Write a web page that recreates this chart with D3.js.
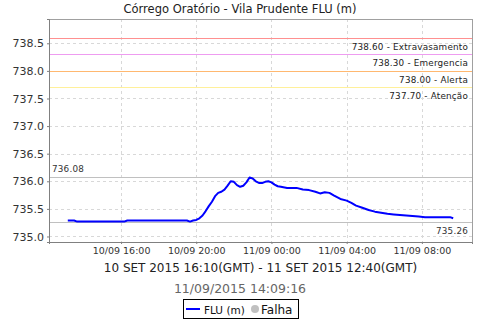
<!DOCTYPE html>
<html>
<head>
<meta charset="utf-8">
<script src="https://cdn.jsdelivr.net/npm/d3@7"></script>
<style>
  body { margin: 0; background: #fff; }
  text { font-family: "DejaVu Sans", sans-serif; }
</style>
</head>
<body>
<div id="chart"></div>
<script>
// series: local time (10/09 -> 11/09/2015) and level in m
const times = [
  "10/09 13:10","10/09 13:30","10/09 13:40","10/09 14:00","10/09 15:00","10/09 16:10",
  "10/09 16:20","10/09 17:00","10/09 18:00","10/09 19:00","10/09 19:30","10/09 19:40",
  "10/09 19:50","10/09 20:00","10/09 20:10","10/09 20:20","10/09 20:30","10/09 20:40",
  "10/09 20:50","10/09 21:00","10/09 21:10","10/09 21:20","10/09 21:30","10/09 21:40",
  "10/09 21:50","10/09 22:00","10/09 22:10","10/09 22:20","10/09 22:30","10/09 22:40",
  "10/09 22:50","10/09 23:00","10/09 23:10","10/09 23:20","10/09 23:30","10/09 23:40",
  "10/09 23:50","11/09 00:00","11/09 00:10","11/09 00:20","11/09 00:30","11/09 00:50",
  "11/09 01:20","11/09 01:40","11/09 02:00","11/09 02:20","11/09 02:35","11/09 02:50",
  "11/09 03:05","11/09 03:20","11/09 03:40","11/09 04:00","11/09 04:15","11/09 04:30",
  "11/09 04:50","11/09 05:10","11/09 05:30","11/09 05:50","11/09 06:10","11/09 06:30",
  "11/09 06:50","11/09 07:10","11/09 07:30","11/09 07:50","11/09 08:10","11/09 09:30",
  "11/09 09:40"
];
const levels = [
  735.29,735.29,735.27,735.27,735.27,735.27,
  735.29,735.29,735.29,735.29,735.29,735.27,
  735.29,735.30,735.33,735.38,735.46,735.55,
  735.63,735.73,735.79,735.81,735.85,735.92,
  736.00,735.99,735.93,735.90,735.92,735.98,
  736.07,736.05,736.00,735.97,735.97,735.99,
  736.00,735.98,735.94,735.91,735.90,735.88,
  735.88,735.85,735.84,735.81,735.78,735.80,
  735.79,735.74,735.68,735.65,735.61,735.56,
  735.52,735.48,735.45,735.43,735.41,735.40,
  735.39,735.38,735.37,735.36,735.35,735.35,
  735.33
];

// alert thresholds
const limitValues = [738.60, 738.30, 738.00, 737.70];
const limitNames = ["Extravasamento", "Emergencia", "Alerta", "Atenção"];
const limitColors = ["#ff9090", "#ee9cf0", "#ffb870", "#fff09a"];

const maxValue = 736.08;
const minValue = 735.26;

const yTicks = [735.0, 735.5, 736.0, 736.5, 737.0, 737.5, 738.0, 738.5];
const xTicks = ["10/09 16:00", "10/09 20:00", "11/09 00:00", "11/09 04:00", "11/09 08:00"];
const xDomain = ["10/09 12:10", "11/09 10:40"];

const title = "Córrego Oratório - Vila Prudente FLU (m)";
const xLabel = "10 SET 2015 16:10(GMT) - 11 SET 2015 12:40(GMT)";
const stamp = "11/09/2015 14:09:16";

const parse = d3.timeParse("%d/%m/%Y %H:%M");
const toDate = s => parse(s.slice(0, 5) + "/2015" + s.slice(5));

const width = 480, height = 320;
const margin = { top: 19, right: 8, bottom: 78, left: 49 };
const iw = width - margin.left - margin.right;
const ih = height - margin.top - margin.bottom;

const svg = d3.select("#chart").append("svg")
  .attr("width", width)
  .attr("height", height);

const x = d3.scaleTime()
  .domain(xDomain.map(toDate))
  .range([0, iw]);

const y = d3.scaleLinear()
  .domain([734.9, 738.94])
  .range([ih, 0]);

const g = svg.append("g")
  .attr("transform", `translate(${margin.left},${margin.top})`);

// title
svg.append("text")
  .attr("x", 240).attr("y", 13)
  .attr("text-anchor", "middle")
  .attr("font-size", 11.5)
  .attr("fill", "#222")
  .text(title);

// grid
g.append("g").selectAll("line")
  .data(yTicks)
  .join("line")
  .attr("x1", 0).attr("x2", iw)
  .attr("y1", d => Math.round(y(d)) + 0.5)
  .attr("y2", d => Math.round(y(d)) + 0.5)
  .attr("stroke", "#d8d8d8")
  .attr("stroke-dasharray", "3,3");

g.append("g").selectAll("line")
  .data(xTicks.map(toDate))
  .join("line")
  .attr("x1", d => Math.round(x(d)) + 0.5)
  .attr("x2", d => Math.round(x(d)) + 0.5)
  .attr("y1", 0).attr("y2", ih)
  .attr("stroke", "#d8d8d8")
  .attr("stroke-dasharray", "3,3");

// threshold lines
const limits = limitValues.map((v, i) => ({ v, name: limitNames[i], color: limitColors[i] }));
g.append("g").selectAll("line")
  .data(limits)
  .join("line")
  .attr("x1", 0).attr("x2", iw)
  .attr("y1", d => Math.round(y(d.v)) + 0.5)
  .attr("y2", d => Math.round(y(d.v)) + 0.5)
  .attr("stroke", d => d.color)
  .attr("stroke-width", 1);

g.append("g").selectAll("text")
  .data(limits)
  .join("text")
  .attr("x", iw - 4)
  .attr("y", d => y(d.v) + 12)
  .attr("text-anchor", "end")
  .attr("font-size", 8.8)
  .attr("letter-spacing", 0.2)
  .attr("fill", "#222")
  .text(d => `${d.v.toFixed(2)} - ${d.name}`);

// max / min markers
g.append("line")
  .attr("x1", 0).attr("x2", iw)
  .attr("y1", Math.round(y(maxValue)) + 0.5)
  .attr("y2", Math.round(y(maxValue)) + 0.5)
  .attr("stroke", "#c0c0c0");
g.append("text")
  .attr("x", 3).attr("y", y(maxValue) - 5)
  .attr("font-size", 8.8)
  .attr("letter-spacing", 0.2)
  .attr("fill", "#333")
  .text(maxValue.toFixed(2));

g.append("line")
  .attr("x1", 0).attr("x2", iw)
  .attr("y1", Math.round(y(minValue)) + 0.5)
  .attr("y2", Math.round(y(minValue)) + 0.5)
  .attr("stroke", "#c0c0c0");
g.append("text")
  .attr("x", iw - 4).attr("y", y(minValue) + 12)
  .attr("text-anchor", "end")
  .attr("font-size", 8.8)
  .attr("letter-spacing", 0.2)
  .attr("fill", "#333")
  .text(minValue.toFixed(2));

// series line
const series = times.map((t, i) => ({ t: toDate(t), v: levels[i] }));
g.append("path")
  .datum(series)
  .attr("fill", "none")
  .attr("stroke", "#0000ff")
  .attr("stroke-width", 2)
  .attr("stroke-linejoin", "round")
  .attr("d", d3.line().x(d => x(d.t)).y(d => y(d.v)));

// plot border
g.append("rect")
  .attr("x", 0.5).attr("y", 0.5)
  .attr("width", iw).attr("height", ih)
  .attr("fill", "none")
  .attr("stroke", "#a0a0a0");

// axes
const yAxis = g.append("g")
  .call(d3.axisLeft(y).tickValues(yTicks).tickFormat(d3.format(".1f")).tickSize(2).tickPadding(3));
const xAxis = g.append("g")
  .attr("transform", `translate(0,${ih})`)
  .call(d3.axisBottom(x).tickValues(xTicks.map(toDate)).tickFormat(d3.timeFormat("%d/%m %H:%M")).tickSize(2).tickPadding(3));

[yAxis, xAxis].forEach(a => {
  a.select(".domain").attr("stroke", "#808080");
  a.selectAll(".tick line").attr("stroke", "#808080");
  a.selectAll("text").attr("fill", "#333").attr("font-family", "DejaVu Sans, sans-serif");
});
yAxis.selectAll("text").attr("font-size", 11);
xAxis.selectAll("text").attr("font-size", 9.5);

// axis label + timestamp
svg.append("text")
  .attr("x", margin.left + iw / 2).attr("y", 272)
  .attr("text-anchor", "middle")
  .attr("font-size", 12)
  .attr("fill", "#222")
  .text(xLabel);

svg.append("text")
  .attr("x", 240).attr("y", 293)
  .attr("text-anchor", "middle")
  .attr("font-size", 12.5)
  .attr("fill", "#666")
  .text(stamp);

// legend
const lg = svg.append("g").attr("transform", "translate(183,299)");
lg.append("rect")
  .attr("x", 0.5).attr("y", 0.5)
  .attr("width", 115).attr("height", 19)
  .attr("fill", "#fff")
  .attr("stroke", "#000");
lg.append("line")
  .attr("x1", 3).attr("x2", 17)
  .attr("y1", 10).attr("y2", 10)
  .attr("stroke", "#0000ff").attr("stroke-width", 2);
lg.append("text")
  .attr("x", 21).attr("y", 14.5)
  .attr("font-size", 10.5)
  .attr("font-family", "Liberation Sans, sans-serif")
  .attr("fill", "#111")
  .text("FLU (m)");
lg.append("circle")
  .attr("cx", 72).attr("cy", 10)
  .attr("r", 4)
  .attr("fill", "#c0c0c0");
lg.append("text")
  .attr("x", 78).attr("y", 14.5)
  .attr("font-size", 12)
  .attr("font-family", "Liberation Sans, sans-serif")
  .attr("fill", "#111")
  .text("Falha");
</script>
</body>
</html>
